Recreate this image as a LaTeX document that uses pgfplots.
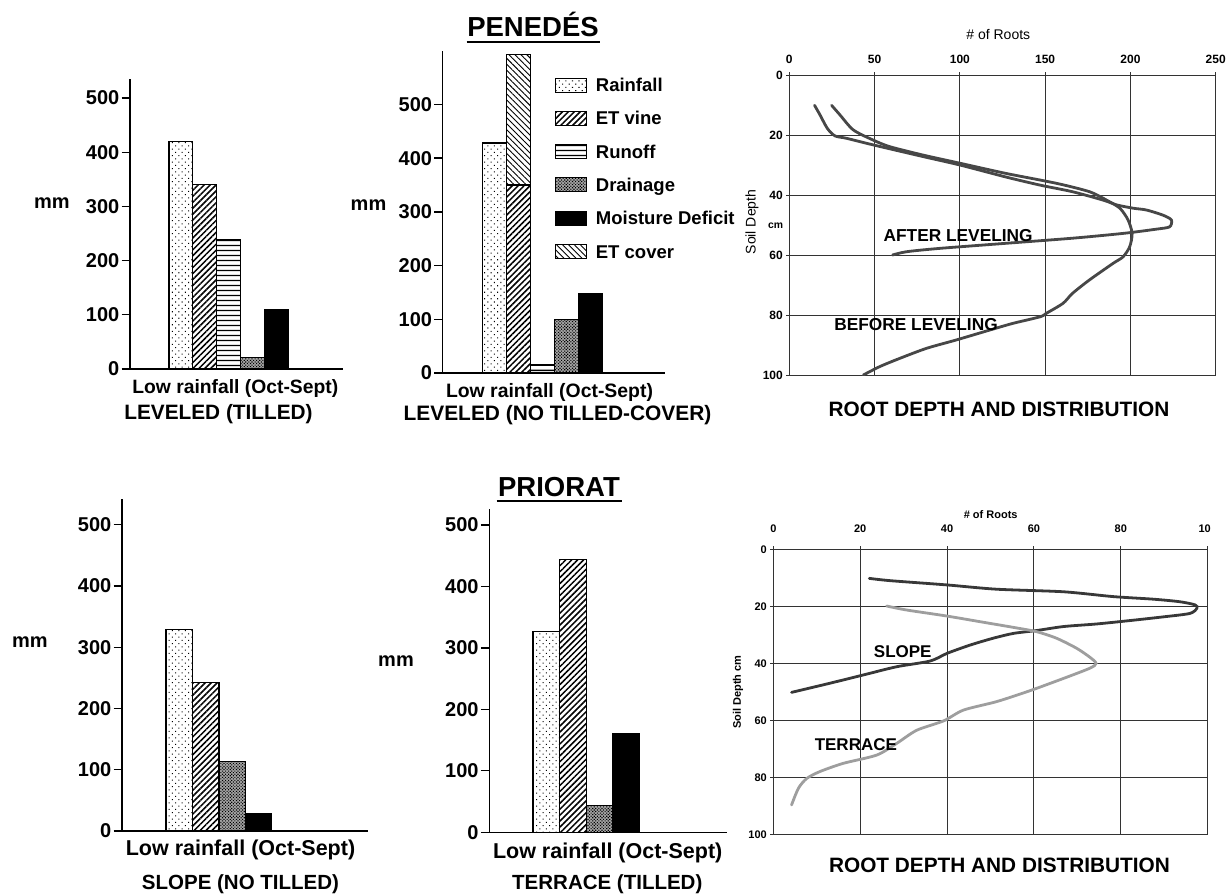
\documentclass[border=0pt]{standalone}
\usepackage{pgfplots}
\pgfplotsset{compat=1.18}
\usepackage{fontspec}
\setmainfont{Liberation Sans}
\usetikzlibrary{patterns.meta}
\newcommand\fs[1]{\fontsize{#1pt}{#1pt}\selectfont}

\tikzset{
  rainS/.style={draw=black, line width=1.3pt, fill=white, postaction={pattern={Dots[distance=4.6pt,radius=0.75pt,angle=45]}, pattern color=black}},
  vineS/.style={draw=black, line width=1.3pt, fill=white, postaction={pattern={Lines[angle=45,distance=4.2pt,line width=1.5pt]}, pattern color=black}},
  runS/.style={draw=black, line width=1.3pt, fill=white, postaction={pattern={Lines[angle=0,distance=5.4pt,line width=1.5pt]}, pattern color=black}},
  drainS/.style={draw=black, line width=1.3pt, fill=black!35, postaction={pattern={Dots[distance=2.2pt,radius=0.8pt,angle=45]}, pattern color=black}},
  moistS/.style={draw=black, line width=1.3pt, fill=black},
  coverS/.style={draw=black, line width=1.3pt, fill=white, postaction={pattern={Lines[angle=-45,distance=4.2pt,line width=0.9pt]}, pattern color=black}},
}
\pgfplotsset{
  barax/.style={scale only axis, anchor=center, axis lines*=left,
    axis line style={line width=1.3pt,-}, ymin=0, xtick=\empty,
    ytick={0,100,...,500}, tick align=outside, major tick length=8.5pt,
    tick style={line width=1.3pt, black},
    /pgf/number format/assume math mode=true,
    yticklabel style={font=\bfseries\fs{20}, inner sep=2pt}},
  rootax/.style={scale only axis, anchor=center, y dir=reverse,
    grid=major, major grid style={line width=1pt, black!80},
    axis line style={line width=1pt, black!80},
    xtick pos=right, xticklabel pos=right, ytick pos=left,
    tick align=outside, major tick length=3pt,
    tick style={line width=1pt, black!80},
    /pgf/number format/assume math mode=true,
    xticklabel style={font=\bfseries\fs{12}, yshift=5pt},
    yticklabel style={font=\bfseries\fs{12}}},
}

\begin{document}
\begin{tikzpicture}
\useasboundingbox (0,0) rectangle (1226pt,-894pt);

% ---------------- Panel 1: LEVELED (TILLED)
\begin{axis}[barax, at={(236.5pt,-224pt)}, width=213pt, height=290pt,
  xmin=-98.5, xmax=114.5, ymax=535]
\addplot[ybar, bar width=23.8pt, bar shift=-47.6pt, rainS] coordinates {(0,420)};
\addplot[ybar, bar width=23.8pt, bar shift=-23.8pt, vineS] coordinates {(0,340)};
\addplot[ybar, bar width=23.8pt, bar shift=0pt, runS] coordinates {(0,239)};
\addplot[ybar, bar width=23.8pt, bar shift=23.8pt, drainS] coordinates {(0,21)};
\addplot[ybar, bar width=23.8pt, bar shift=47.6pt, moistS] coordinates {(0,110)};
\end{axis}

% ---------------- Panel 2: LEVELED (NO TILLED-COVER)
\begin{axis}[barax, at={(553.85pt,-211.85pt)}, width=222.3pt, height=322.3pt,
  xmin=-99.8, xmax=122.5, ymax=600]
\addplot[ybar, bar width=23.9pt, bar shift=-47.8pt, rainS] coordinates {(0,428)};
% ET cover stacked on ET vine (350 + 243 = 593)
\addplot[ybar, bar width=23.9pt, bar shift=-23.9pt, coverS] coordinates {(0,593)};
\addplot[ybar, bar width=23.9pt, bar shift=-23.9pt, vineS] coordinates {(0,350)};
\addplot[ybar, bar width=23.9pt, bar shift=0pt, runS] coordinates {(0,15)};
\addplot[ybar, bar width=23.9pt, bar shift=23.9pt, drainS] coordinates {(0,100)};
\addplot[ybar, bar width=23.9pt, bar shift=47.8pt, moistS] coordinates {(0,147)};
\end{axis}

% ---------------- Panel 3: SLOPE (NO TILLED)
\begin{axis}[barax, at={(245pt,-665pt)}, width=246pt, height=332pt,
  xmin=-96.9, xmax=149.1, ymax=542]
\addplot[ybar, bar width=26.4pt, bar shift=-39.6pt, rainS] coordinates {(0,329)};
\addplot[ybar, bar width=26.4pt, bar shift=-13.2pt, vineS] coordinates {(0,243)};
\addplot[ybar, bar width=26.4pt, bar shift=13.2pt, drainS] coordinates {(0,114)};
\addplot[ybar, bar width=26.4pt, bar shift=39.6pt, moistS] coordinates {(0,28)};
\end{axis}

% ---------------- Panel 4: TERRACE (TILLED)
\begin{axis}[barax, at={(608pt,-670.65pt)}, width=237.4pt, height=323.3pt,
  xmin=-97, xmax=140.4, ymax=526]
\addplot[ybar, bar width=26.7pt, bar shift=-40.05pt, rainS] coordinates {(0,327)};
\addplot[ybar, bar width=26.7pt, bar shift=-13.35pt, vineS] coordinates {(0,444)};
\addplot[ybar, bar width=26.7pt, bar shift=13.35pt, drainS] coordinates {(0,44)};
\addplot[ybar, bar width=26.7pt, bar shift=40.05pt, moistS] coordinates {(0,161)};
\end{axis}

% ---------------- Panel 5: Penedes roots
\begin{axis}[rootax, at={(1002.5pt,-225pt)}, width=426.4pt, height=300pt,
  xmin=0, xmax=250, xtick={0,50,...,250}, ymin=0, ymax=100, ytick={0,20,...,100}]
\addplot[smooth, tension=0.45, line width=2.8pt, black!72, line cap=round] coordinates {
(14.8,10.1) (18,13.3) (22.3,17.8) (26.8,20.3) (33.6,21.1) (49.2,23.3) (78.5,27.2)
(100,30) (127,34) (147,36.7) (166,38.9) (184,41.7) (192,43.3) (201.6,44.4)
(209.4,45) (219,46.7) (224,48.3) (223,50.6) (215,51.4) (195.7,52.8) (166,54.4)
(127,56.1) (88,57.8) (68.8,58.9) (60.5,60)};
\addplot[smooth, tension=0.45, line width=2.8pt, black!72, line cap=round] coordinates {
(24.8,10.1) (29.7,13.3) (37.5,18.3) (49.2,21.7) (59,23.9) (78.5,26.7) (100,29.4)
(127,32.8) (156.6,36.1) (176,38.9) (186,41.7) (193.8,44.4) (198.6,48.3) (201,52.8)
(199.6,57.2) (195.7,60.6) (189.8,62.8) (176,68.3) (166,72.8) (160.5,76.1)
(150.8,79.4) (147,80.6) (131,82.8) (117.6,85) (98,88.3) (80.5,91.1) (65,94.4)
(53,97.2) (43.4,100)};
\node[font=\bfseries\fs{17.3}] at (axis cs:99,53.6) {AFTER LEVELING};
\node[font=\bfseries\fs{17.3}] at (axis cs:74.3,83.3) {BEFORE LEVELING};
\end{axis}

% ---------------- Panel 6: Priorat roots
\begin{axis}[rootax, at={(990.5pt,-691.8pt)}, width=434.4pt, height=285pt,
  xticklabel style={font=\bfseries\fs{11}, yshift=5pt},
  yticklabel style={font=\bfseries\fs{11}},
  xmin=0, xmax=100, xtick={0,20,...,100},
  xticklabels={0,20,40,60,80,\rlap{10}\phantom{100}},
  ymin=0, ymax=100, ytick={0,20,...,100}]
\addplot[smooth, tension=0.45, line width=2.8pt, black!78, line cap=round] coordinates {
(22.1,10.2) (26.9,11) (40,12.5) (51.4,14) (66.8,14.9) (78.3,16.6) (87.5,17.5)
(93.6,18.4) (97.1,19.5) (97.5,20.7) (95.9,22.5) (89.8,23.7) (82.1,25) (74.4,26.2)
(66.8,27.1) (60.6,28.5) (55.3,29.5) (50.6,31.2) (45.3,33.6) (40,36.5) (36.1,39.2)
(28.4,41.2) (20.7,44.1) (13,47) (4.2,50.2)};
\addplot[smooth, tension=0.45, line width=2.8pt, black!38, line cap=round] coordinates {
(26.1,19.9) (30.7,21.3) (39.9,23.4) (47.6,25.4) (55.3,27.4) (60.6,28.9) (65.2,31.2)
(69.8,34.7) (72.9,37.9) (74.3,40) (72.9,41.7) (66.8,45.3) (59.1,49.6) (51.5,53.4)
(43.8,56.4) (39.2,60.2) (33,63.5) (28.4,68.1) (23.8,72.2) (16.1,75.1) (10.7,78)
(7.7,80.4) (5.8,83.8) (4.2,89.7)};
\node[font=\bfseries\fs{17}] at (axis cs:29.8,35.9) {SLOPE};
\node[font=\bfseries\fs{17}] at (axis cs:19,68.7) {TERRACE};
\end{axis}

% ---------------- texts
\node[anchor=base, font=\bfseries\fs{27.5}] at (533pt,-36.4pt) {PENEDÉS};
\draw[line width=2.2pt] (466.7pt,-41.7pt) -- (600pt,-41.7pt);
\node[anchor=base, font=\bfseries\fs{27.5}] at (559pt,-496.6pt) {PRIORAT};
\draw[line width=2.2pt] (496.7pt,-500.7pt) -- (621.7pt,-500.7pt);

\node[anchor=base, font=\bfseries\fs{20}] at (52pt,-208.3pt) {mm};
\node[anchor=base, font=\bfseries\fs{20}] at (368.5pt,-210pt) {mm};
\node[anchor=base, font=\bfseries\fs{20}] at (30pt,-647pt) {mm};
\node[anchor=base, font=\bfseries\fs{20}] at (396pt,-666.7pt) {mm};

\node[anchor=base, font=\bfseries\fs{19.3}] at (235.3pt,-393pt) {Low rainfall (Oct-Sept)};
\node[anchor=base, font=\bfseries\fs{20.8}] at (218.5pt,-419.6pt) {LEVELED (TILLED)};
\node[anchor=base, font=\bfseries\fs{19.4}] at (549.5pt,-397pt) {Low rainfall (Oct-Sept)};
\node[anchor=base, font=\bfseries\fs{20.9}] at (557.5pt,-420.7pt) {LEVELED (NO TILLED-COVER)};
\node[anchor=base, font=\bfseries\fs{21.5}] at (240.5pt,-855pt) {Low rainfall (Oct-Sept)};
\node[anchor=base, font=\bfseries\fs{20.5}] at (240.5pt,-889pt) {SLOPE (NO TILLED)};
\node[anchor=base, font=\bfseries\fs{21.5}] at (607.7pt,-858pt) {Low rainfall (Oct-Sept)};
\node[anchor=base, font=\bfseries\fs{20.5}] at (607.3pt,-889pt) {TERRACE (TILLED)};

\node[anchor=base, font=\bfseries\fs{20.8}] at (999pt,-416.7pt) {ROOT DEPTH AND DISTRIBUTION};
\node[anchor=base, font=\bfseries\fs{20.8}] at (999.5pt,-872.7pt) {ROOT DEPTH AND DISTRIBUTION};

\node[font=\fs{14}] at (998.3pt,-35pt) {\# of Roots};
\node[font=\fs{14}, rotate=90] at (752pt,-222pt) {Soil Depth};
\node[font=\bfseries\fs{10.4}] at (775.7pt,-225.7pt) {cm};
\node[font=\bfseries\fs{11}] at (990.7pt,-515pt) {\# of Roots};
\node[font=\bfseries\fs{11}, rotate=90] at (738pt,-692pt) {Soil Depth cm};

% ---------------- legend (panel 2)
\foreach \sty/\lab [count=\i from 0] in {rainS/Rainfall, vineS/ET vine, runS/Runoff, drainS/Drainage, moistS/Moisture Deficit, coverS/ET cover}{
  \pgfmathsetmacro\yc{85+33.33*\i}
  \draw[\sty, line width=1pt] (555pt,-\yc pt+7pt) rectangle (586pt,-\yc pt-7pt);
  \node[anchor=base west, inner sep=0pt, font=\bfseries\fs{18.5}] at (595.7pt,-\yc pt-6.6pt) {\lab};
}
\end{tikzpicture}
\end{document}
